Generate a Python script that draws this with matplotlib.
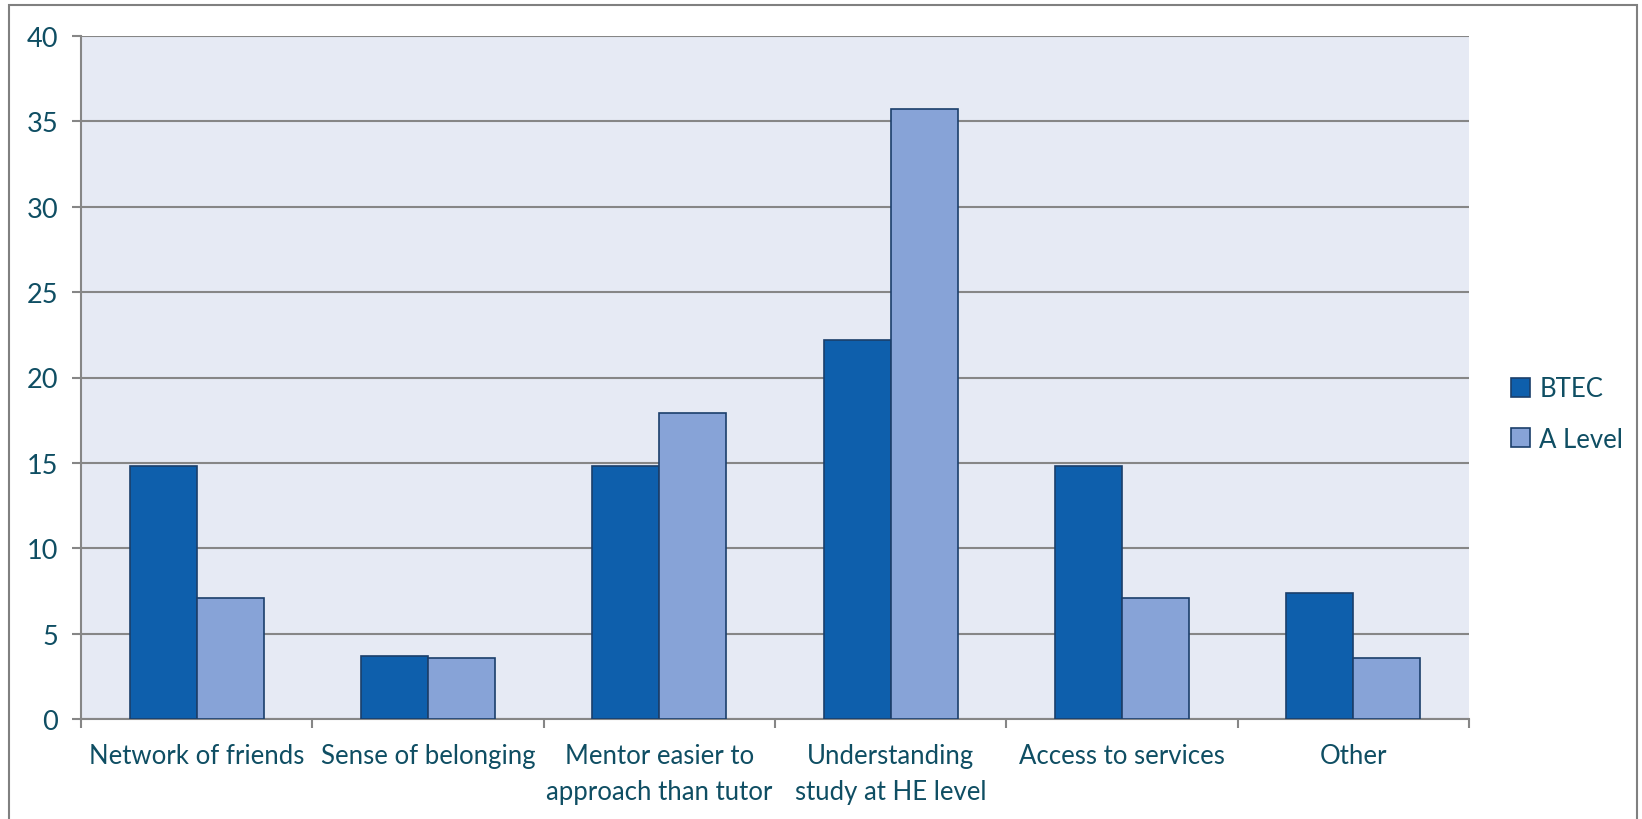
import numpy as np
import matplotlib
matplotlib.use('Agg')
import matplotlib.pyplot as plt
from matplotlib.patches import Rectangle

categories = ['Network of friends', 'Sense of belonging', 'Mentor easier to\napproach than tutor',
              'Understanding\nstudy at HE level', 'Access to services', 'Other']
btec = [14.8, 3.7, 14.8, 22.2, 14.8, 7.4]
alevel = [7.1, 3.6, 17.9, 35.7, 7.1, 3.6]
series_names = ['BTEC', 'A Level']
yticks = [0, 5, 10, 15, 20, 25, 30, 35, 40]

txt = '#0F4E63'
grey = '#868686'
edge = '#1B3F6B'

plt.rcParams['font.family'] = ['Lato', 'DejaVu Sans']
plt.rcParams['font.size'] = 18.5

fig = plt.figure(figsize=(16.42, 8.2), dpi=100)
ax = fig.add_axes([81/1642, 1 - 720/820, (1469-81)/1642, (720-37)/820])
ax.set_facecolor('#E6EAF4')

x = np.arange(len(categories))
w = 0.29
b1 = ax.bar(x - w/2, btec, w, color='#0E5FAC', edgecolor=edge, linewidth=1.2, label=series_names[0], zorder=3)
b2 = ax.bar(x + w/2, alevel, w, color='#87A3D7', edgecolor=edge, linewidth=1.2, label=series_names[1], zorder=3)

ax.set_xlim(-0.5, len(categories) - 0.5)
ax.set_ylim(0, 40)
ax.set_yticks(yticks)
ax.yaxis.grid(True, color=grey, linewidth=1.5, zorder=1)
ax.set_axisbelow(True)

ax.set_xticks(np.arange(len(categories) + 1) - 0.5)
ax.set_xticklabels([])
ax.set_xticks(x, minor=True)
ax.set_xticklabels(categories, minor=True, color=txt, linespacing=1.55)
ax.tick_params(axis='x', which='minor', length=0, pad=17)
ax.tick_params(axis='x', which='major', length=6.5, width=1.5, color=grey)
ax.tick_params(axis='y', length=6.5, width=1.5, color=grey, labelcolor=txt, pad=10, labelsize=19.5)

for s in ['top', 'right']:
    ax.spines[s].set_visible(False)
for s in ['left', 'bottom']:
    ax.spines[s].set_color(grey)
    ax.spines[s].set_linewidth(1.5)

leg = fig.legend(handles=[b1, b2], loc='center left', bbox_to_anchor=(1488/1642, 1 - 415/820),
                 frameon=False, handlelength=0.75, handleheight=0.75, handletextpad=0.35,
                 labelspacing=1.0, fontsize=18.5)
for t in leg.get_texts():
    t.set_color(txt)

fig.patches.append(Rectangle((9/1642, -0.05), (1637-9)/1642, 1.05 - 6/820, transform=fig.transFigure,
                             fill=False, edgecolor='#808080', linewidth=1.5))

plt.savefig('out.png', dpi=100)
